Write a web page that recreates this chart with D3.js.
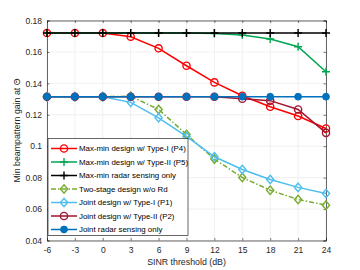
<!DOCTYPE html>
<html>
<head>
<meta charset="utf-8">
<script src="https://cdn.jsdelivr.net/npm/d3@7"></script>
<style>
  body { margin: 0; background: #fff; }
  svg { display: block; font-family: "Liberation Sans", Arial, sans-serif; }
  .tick text { font-size: 8.5px; fill: #262626; }
</style>
</head>
<body>
<div id="chart"></div>
<script>
// data
const sinr = [-6, -3, 0, 3, 6, 9, 12, 15, 18, 21, 24];
const p4 = [0.172, 0.172, 0.172, 0.1697, 0.1623, 0.1512, 0.1406, 0.1321, 0.1251, 0.1192, 0.1113];
const p5 = [0.172, 0.172, 0.172, 0.172, 0.172, 0.172, 0.1718, 0.1707, 0.1682, 0.1633, 0.1474];
const radarMaxmin = [0.172, 0.172, 0.172, 0.172, 0.172, 0.172, 0.172, 0.172, 0.172, 0.172, 0.172];
const twoStage = [0.1315, 0.1315, 0.1315, 0.1318, 0.1234, 0.1075, 0.0918, 0.0801, 0.072, 0.0661, 0.0625];
const p1 = [0.1315, 0.1315, 0.1315, 0.1279, 0.1181, 0.1062, 0.0933, 0.0852, 0.0788, 0.0738, 0.0699];
const p2 = [0.1315, 0.1315, 0.1315, 0.1315, 0.1315, 0.1315, 0.1315, 0.1302, 0.129, 0.1234, 0.1085];
const radarJoint = [0.1315, 0.1315, 0.1315, 0.1315, 0.1315, 0.1315, 0.1315, 0.1315, 0.1315, 0.1315, 0.1315];
const xTicks = [-6, -3, 0, 3, 6, 9, 12, 15, 18, 21, 24];
const yTicks = [0.04, 0.06, 0.08, 0.1, 0.12, 0.14, 0.16, 0.18];

const series = [
  {name: "Max-min design w/ Type-I (P4)", vals: p4, color: "#ff0000", mark: "circle", dash: null},
  {name: "Max-min design w/ Type-II (P5)", vals: p5, color: "#00a651", mark: "plus", dash: null},
  {name: "Max-min radar sensing only", vals: radarMaxmin, color: "#000000", mark: "plus", dash: null},
  {name: "Two-stage design w/o Rd", vals: twoStage, color: "#77ac30", mark: "diamond", dash: "5,2,1.5,2"},
  {name: "Joint design w/ Type-I (P1)", vals: p1, color: "#4dbeee", mark: "diamond", dash: null},
  {name: "Joint design w/ Type-II (P2)", vals: p2, color: "#a2142f", mark: "circle", dash: null},
  {name: "Joint radar sensing only", vals: radarJoint, color: "#0072bd", mark: "dot", dash: null}
];

const W = 360, H = 270;
const m = {left: 47, right: 34, top: 20.5, bottom: 29.5};
const w = W - m.left - m.right;
const h = H - m.top - m.bottom;

const svg = d3.select("#chart").append("svg")
  .attr("width", W).attr("height", H);

const x = d3.scaleLinear().domain([-6, 24]).range([m.left, m.left + w]);
const y = d3.scaleLinear().domain([0.04, 0.18]).range([m.top + h, m.top]);

// grid
const grid = svg.append("g");
grid.selectAll(".gx").data(xTicks).enter().append("line")
  .attr("x1", d => x(d)).attr("x2", d => x(d))
  .attr("y1", m.top).attr("y2", m.top + h)
  .attr("stroke", "#e6e6e6").attr("stroke-width", 0.6);
grid.selectAll(".gy").data(yTicks).enter().append("line")
  .attr("x1", m.left).attr("x2", m.left + w)
  .attr("y1", d => y(d)).attr("y2", d => y(d))
  .attr("stroke", "#e6e6e6").attr("stroke-width", 0.6);

// axes (ticks inside, MATLAB style)
svg.append("g").attr("transform", `translate(0,${m.top + h})`)
  .call(d3.axisBottom(x).tickValues(xTicks).tickSize(-2.5).tickPadding(6).tickFormat(d => String(d)));
svg.append("g").attr("transform", `translate(${m.left},0)`)
  .call(d3.axisLeft(y).tickValues(yTicks).tickSize(-2.5).tickPadding(5).tickFormat(d => d3.format(".2~f")(d)));
svg.append("g").attr("transform", `translate(0,${m.top})`)
  .call(d3.axisTop(x).tickValues(xTicks).tickSize(-2.5).tickFormat(""));
svg.append("g").attr("transform", `translate(${m.left + w},0)`)
  .call(d3.axisRight(y).tickValues(yTicks).tickSize(-2.5).tickFormat(""));
svg.selectAll(".domain").attr("stroke", "#262626").attr("stroke-width", 0.7);
svg.selectAll(".tick line").attr("stroke", "#262626").attr("stroke-width", 0.6);

function drawMarker(g, s, cx, cy) {
  if (s.mark === "circle") {
    g.append("circle").attr("cx", cx).attr("cy", cy).attr("r", 3.6)
      .attr("fill", "none").attr("stroke", s.color).attr("stroke-width", 1.4);
  } else if (s.mark === "dot") {
    g.append("circle").attr("cx", cx).attr("cy", cy).attr("r", 3.4)
      .attr("fill", s.color).attr("stroke", s.color).attr("stroke-width", 1);
  } else if (s.mark === "plus") {
    g.append("path").attr("d", `M${cx - 4},${cy}H${cx + 4}M${cx},${cy - 4}V${cy + 4}`)
      .attr("stroke", s.color).attr("stroke-width", 1.4).attr("fill", "none");
  } else if (s.mark === "diamond") {
    g.append("path").attr("d", `M${cx},${cy - 4.2}L${cx + 3.6},${cy}L${cx},${cy + 4.2}L${cx - 3.6},${cy}Z`)
      .attr("stroke", s.color).attr("stroke-width", 1.4).attr("fill", "none");
  }
}

const line = d3.line().x((d, i) => x(sinr[i])).y(d => y(d));

series.forEach(s => {
  const g = svg.append("g");
  g.append("path").datum(s.vals)
    .attr("d", line)
    .attr("fill", "none")
    .attr("stroke", s.color)
    .attr("stroke-width", 1.5)
    .attr("stroke-dasharray", s.dash);
  s.vals.forEach((v, i) => drawMarker(g, s, x(sinr[i]), y(v)));
});

// legend
const lg = svg.append("g");
lg.append("rect").attr("x", 48).attr("y", 138.5).attr("width", 140).attr("height", 97)
  .attr("fill", "#fff").attr("stroke", "#262626").attr("stroke-width", 0.7);
series.forEach((s, i) => {
  const ly = 148.5 + i * 13.5;
  lg.append("line").attr("x1", 51).attr("x2", 77).attr("y1", ly).attr("y2", ly)
    .attr("stroke", s.color).attr("stroke-width", 1.5).attr("stroke-dasharray", s.dash);
  drawMarker(lg, s, 64, ly);
  lg.append("text").attr("x", 79).attr("y", ly + 2.8)
    .attr("font-size", 7.9).attr("fill", "#000").text(s.name);
});

// axis labels
svg.append("text").attr("x", x(9)).attr("y", 265)
  .attr("text-anchor", "middle").attr("font-size", 8.8).attr("fill", "#262626")
  .text("SINR threshold (dB)");
svg.append("text").attr("transform", `translate(20,${m.top + h / 2}) rotate(-90)`)
  .attr("text-anchor", "middle").attr("font-size", 8.8).attr("fill", "#262626")
  .text("Min beampattern gain at Θ");
</script>
</body>
</html>
